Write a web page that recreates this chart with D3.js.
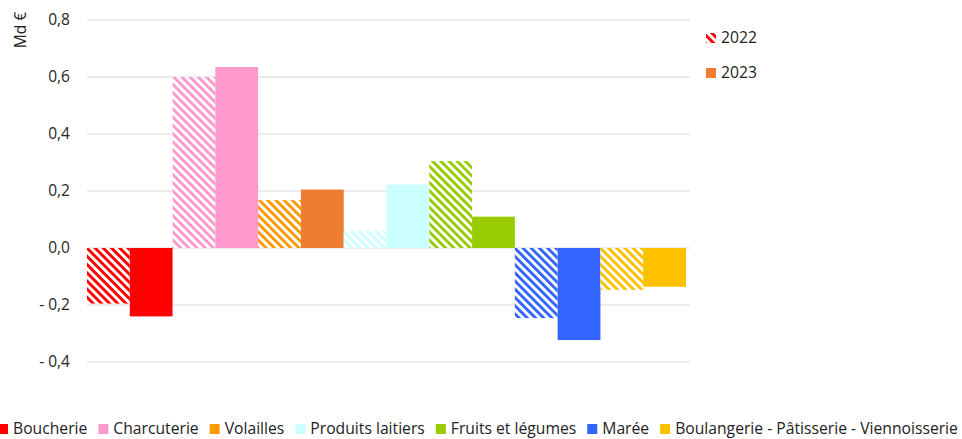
<!DOCTYPE html>
<html>
<head>
<meta charset="utf-8">
<script src="https://cdn.jsdelivr.net/npm/d3@7"></script>
<style>
  body { margin: 0; background: #fff; }
  svg { display: block; font-family: "Open Sans", Lato, sans-serif; }
</style>
</head>
<body>
<div id="chart"></div>
<script>
const categories = ['Boucherie', 'Charcuterie', 'Volailles', 'Produits laitiers', 'Fruits et légumes', 'Marée', 'Boulangerie - Pâtisserie - Viennoisserie'];
const years = ['2022', '2023'];
const values2022 = [-0.195, 0.60, 0.168, 0.06, 0.305, -0.246, -0.147];
const values2023 = [-0.24, 0.635, 0.205, 0.223, 0.11, -0.323, -0.136];
const colors2022 = ['#ff0000', '#ff99cc', '#ff9900', '#ccffff', '#99cc00', '#3366ff', '#ffc000'];
const colors2023 = ['#ff0000', '#ff99cc', '#ed7d31', '#ccffff', '#99cc00', '#3366ff', '#ffc000'];
const yTicks = [-0.4, -0.2, 0, 0.2, 0.4, 0.6, 0.8];

const width = 962;
const height = 439;
const margin = { top: 20, left: 87, right: 276, bottom: 77 };

const svg = d3.select('#chart').append('svg')
  .attr('width', width)
  .attr('height', height);

// hatch for 2022 bars, stripes going down to the right
const defs = svg.append('defs');
const hs = 5.8;
colors2022.forEach((c, i) => {
  const p = defs.append('pattern')
    .attr('id', 'hatch' + i)
    .attr('patternUnits', 'userSpaceOnUse')
    .attr('width', hs)
    .attr('height', hs)
    .attr('patternTransform', 'rotate(45)');
  p.append('rect').attr('width', hs).attr('height', hs).attr('fill', '#fff');
  p.append('rect').attr('width', hs).attr('height', hs / 2).attr('fill', c);
});

const x = d3.scaleBand()
  .domain(categories)
  .range([margin.left, width - margin.right])
  .padding(0);

const xSub = d3.scaleBand()
  .domain(years)
  .range([0, x.bandwidth()])
  .padding(0);

const y = d3.scaleLinear()
  .domain([-0.4, 0.8])
  .range([362, 20]);

// grid
svg.append('g')
  .selectAll('line')
  .data(yTicks)
  .join('line')
  .attr('x1', margin.left)
  .attr('x2', 690)
  .attr('y1', d => y(d))
  .attr('y2', d => y(d))
  .attr('stroke', '#d9d9d9')
  .attr('stroke-width', 1);

// y labels
const fmt = d => (d < 0 ? '- ' : '') + d3.format('.1f')(Math.abs(d)).replace('.', ',');
svg.append('g')
  .selectAll('text')
  .data(yTicks)
  .join('text')
  .attr('x', 70)
  .attr('y', d => y(d))
  .attr('dy', '0.35em')
  .attr('text-anchor', 'end')
  .attr('font-size', 15.5)
  .attr('fill', '#262626')
  .text(fmt);

svg.append('text')
  .attr('transform', 'translate(21,30) rotate(-90)')
  .attr('text-anchor', 'middle')
  .attr('dy', '0.35em')
  .attr('font-size', 15.5)
  .attr('fill', '#222')
  .text('Md €');

// bars
const groups = svg.append('g')
  .selectAll('g')
  .data(categories)
  .join('g')
  .attr('transform', d => `translate(${x(d)},0)`);

groups.append('rect')
  .attr('x', xSub('2022'))
  .attr('width', xSub.bandwidth())
  .attr('y', (d, i) => y(Math.max(0, values2022[i])))
  .attr('height', (d, i) => Math.abs(y(values2022[i]) - y(0)))
  .attr('fill', (d, i) => `url(#hatch${i})`);

groups.append('rect')
  .attr('x', xSub('2023'))
  .attr('width', xSub.bandwidth())
  .attr('y', (d, i) => y(Math.max(0, values2023[i])))
  .attr('height', (d, i) => Math.abs(y(values2023[i]) - y(0)))
  .attr('fill', (d, i) => colors2023[i]);

// right legend
const yearLegend = svg.append('g').attr('font-size', 15.7).attr('fill', '#222');
yearLegend.append('rect').attr('x', 706).attr('y', 33).attr('width', 10).attr('height', 10).attr('fill', 'url(#hatch0)');
yearLegend.append('text').attr('x', 721).attr('y', 38).attr('dy', '0.35em').text('2022');
yearLegend.append('rect').attr('x', 706).attr('y', 68).attr('width', 10).attr('height', 10).attr('fill', colors2023[2]);
yearLegend.append('text').attr('x', 721).attr('y', 73).attr('dy', '0.35em').text('2023');

// bottom legend
const legend = svg.append('g').attr('font-size', 15.7).attr('fill', '#222');
let lx = -2;
categories.forEach((c, i) => {
  legend.append('rect')
    .attr('x', lx).attr('y', 424)
    .attr('width', 10).attr('height', 10)
    .attr('fill', colors2022[i]);
  const t = legend.append('text')
    .attr('x', lx + 15).attr('y', 429)
    .attr('dy', '0.35em')
    .text(c);
  lx += 15 + t.node().getComputedTextLength() + 11;
});
</script>
</body>
</html>
